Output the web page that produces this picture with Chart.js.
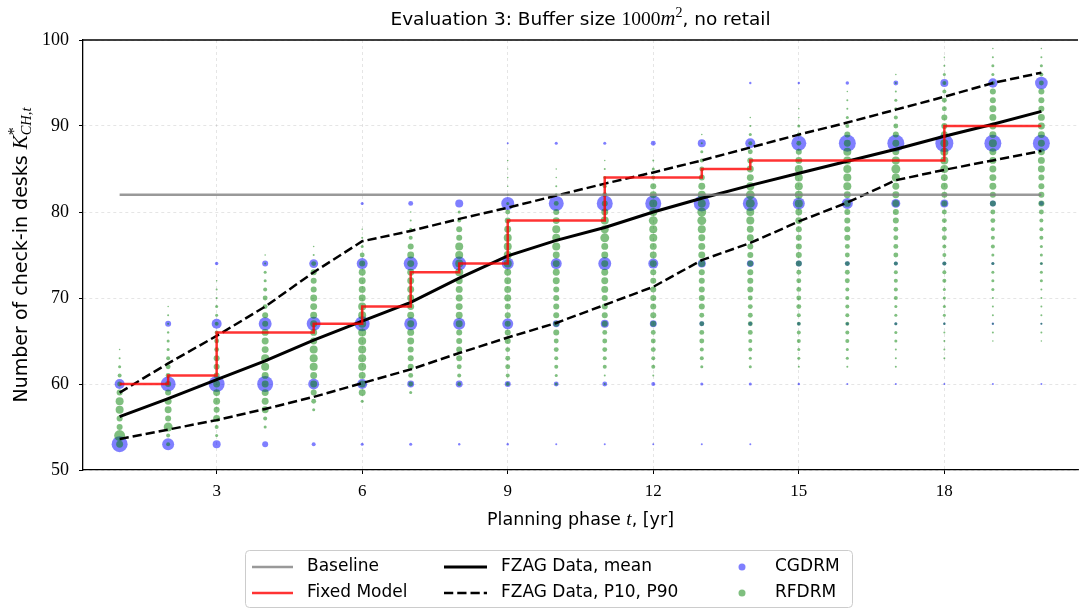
<!DOCTYPE html>
<html lang="en">
<head>
<meta charset="UTF-8">
<title>Evaluation 3: Buffer size 1000m2, no retail</title>
<script src="https://cdn.jsdelivr.net/npm/chart.js"></script>
<style>
    html, body { margin: 0; padding: 0; overflow: hidden; background: #fff; }
    canvas { display: block; }
</style>
</head>
<body>
<canvas id="chart" width="1087" height="610"></canvas>
<script>
// planning phases t = 1..20
const years = [1, 2, 3, 4, 5, 6, 7, 8, 9, 10, 11, 12, 13, 14, 15, 16, 17, 18, 19, 20];
const xTicks = [3, 6, 9, 12, 15, 18];
const yTicks = [50, 60, 70, 80, 90, 100];

const baselineValue = 82;
const fixedModel = [60, 61, 66, 66, 67, 69, 73, 74, 79, 79, 84, 84, 85, 86, 86, 86, 86, 90, 90, 90];
const fzagMean = [56.2, 58.3, 60.5, 62.7, 65.1, 67.3, 69.5, 72.3, 74.9, 76.7, 78.2, 80.0, 81.6, 83.1, 84.5, 85.9, 87.3, 88.8, 90.2, 91.7];
const fzagP10 = [53.6, 54.7, 55.8, 57.1, 58.5, 60.1, 61.7, 63.6, 65.4, 67.1, 69.2, 71.3, 74.4, 76.4, 78.9, 81.1, 83.7, 84.9, 86.0, 87.1];
const fzagP90 = [59.0, 62.4, 65.6, 69.0, 73.0, 76.6, 77.8, 79.2, 80.5, 81.9, 83.3, 84.6, 86.0, 87.5, 89.0, 90.4, 91.9, 93.4, 95.0, 96.2];

// CGDRM: desk levels and relative frequency (marker area) per phase
const cgdrmLevels = [53, 60, 67, 74, 81, 88, 95];
const cgdrmWeight = [
    [64, 25, 0, 0, 0, 0, 0],
    [36, 56, 9, 0, 0, 0, 0],
    [16, 64, 25, 3, 0, 0, 0],
    [9, 64, 42, 9, 0, 0, 0],
    [4, 30, 49, 20, 0, 0, 0],
    [2.3, 25, 56, 30, 2.3, 0, 0],
    [2.3, 12, 42, 49, 6, 0, 0],
    [1.4, 12, 36, 49, 16, 0, 0],
    [1.4, 9, 30, 36, 42, 1, 0],
    [1, 6, 12, 30, 56, 2.3, 0],
    [1, 6, 16, 42, 64, 2.3, 0],
    [1, 4, 12, 25, 64, 6, 0],
    [1, 2.3, 6, 16, 64, 16, 0],
    [1, 2.3, 4, 12, 56, 25, 1.4],
    [0, 1.4, 3, 9, 36, 56, 1.4],
    [0, 1, 2.3, 6, 30, 72, 3],
    [0, 1, 2.3, 4, 20, 72, 6],
    [0, 1, 1.4, 4, 16, 81, 16],
    [0, 1, 1.4, 2.3, 9, 72, 22],
    [0, 1, 1, 1.4, 6, 72, 40]
];

// RFDRM: lowest desk count per phase, then relative frequency for each desk count upwards
const rfdrmStart = [53, 53, 54, 55, 57, 58, 59, 60, 60, 60, 60, 61, 62, 62, 62, 62, 62, 63, 65, 65];
const rfdrmWeight = [
    [12, 30, 9, 9, 16, 16, 9, 6, 4, 2.3, 1, 0.6],
    [4, 4, 20, 9, 12, 12, 9, 9, 6, 6, 4, 2.3, 2.3, 1.4, 1, 1, 0.6],
    [2.3, 4, 12, 9, 12, 12, 12, 9, 9, 9, 6, 6, 4, 4, 2.3, 2.3, 1, 1, 0.6],
    [2.3, 4, 12, 12, 12, 12, 12, 16, 16, 12, 12, 12, 9, 9, 6, 6, 4, 2.3, 2.3, 1, 0.6],
    [2.3, 6, 9, 12, 12, 16, 16, 16, 12, 12, 12, 12, 12, 12, 9, 9, 9, 6, 1, 0.6],
    [2.3, 12, 12, 12, 16, 16, 16, 16, 16, 16, 16, 16, 12, 12, 12, 12, 9, 6, 2.3, 1, 0.6],
    [2.3, 6, 6, 9, 9, 9, 12, 12, 12, 12, 12, 12, 12, 12, 12, 12, 12, 9, 4, 2.3, 1, 0.6],
    [4, 4, 6, 9, 9, 9, 9, 12, 12, 12, 12, 12, 12, 16, 16, 16, 16, 9, 9, 4, 2.3],
    [4, 4, 6, 6, 6, 9, 9, 9, 9, 9, 12, 12, 12, 12, 16, 16, 16, 16, 12, 9, 6, 2.3, 1, 0.6, 0.6, 0.4, 0.6],
    [2.3, 2.3, 4, 4, 6, 6, 9, 9, 9, 9, 9, 9, 12, 12, 12, 12, 16, 16, 16, 12, 9, 6, 2.3, 1, 0.6, 0.6],
    [1, 1, 4, 4, 6, 6, 6, 9, 9, 9, 9, 12, 12, 12, 12, 12, 12, 20, 16, 16, 12, 9, 6, 4, 2.3, 1, 0.6],
    [1, 4, 4, 6, 6, 6, 9, 9, 9, 9, 9, 9, 9, 12, 12, 12, 16, 16, 20, 16, 16, 12, 9, 4, 2.3, 1],
    [2.3, 4, 4, 6, 6, 6, 6, 9, 9, 9, 9, 9, 12, 12, 12, 12, 16, 20, 20, 16, 16, 12, 9, 6, 4, 2.3, 1, 0.6],
    [2.3, 2.3, 4, 4, 6, 6, 6, 6, 6, 9, 9, 9, 9, 9, 9, 12, 12, 16, 16, 20, 20, 16, 12, 12, 9, 6, 4, 2.3, 1, 0.6],
    [1, 2.3, 2.3, 4, 4, 4, 4, 6, 6, 6, 6, 6, 9, 9, 9, 9, 9, 12, 12, 16, 16, 16, 16, 16, 12, 9, 6, 4, 2.3, 0.6, 0.6],
    [1, 2.3, 2.3, 4, 4, 4, 4, 4, 4, 4, 6, 6, 6, 6, 6, 9, 9, 9, 9, 12, 12, 16, 16, 16, 16, 16, 12, 9, 4, 2.3, 1, 1, 0.6],
    [1, 1, 1, 2.3, 2.3, 2.3, 2.3, 2.3, 4, 4, 4, 4, 4, 6, 6, 6, 6, 9, 9, 12, 12, 12, 16, 20, 16, 12, 12, 9, 6, 4, 2.3, 2.3, 1, 1, 0.6],
    [1, 1, 1, 1, 1.4, 2.3, 2.3, 2.3, 2.3, 4, 4, 4, 4, 4, 6, 6, 6, 6, 9, 9, 12, 12, 16, 16, 16, 16, 12, 9, 9, 6, 6, 4, 4, 2.3, 1, 0.6],
    [0.6, 1, 1, 1, 1, 1, 2.3, 2.3, 2.3, 2.3, 2.3, 4, 4, 4, 6, 6, 9, 9, 12, 12, 12, 12, 12, 16, 12, 12, 12, 12, 9, 9, 4, 2.3, 2.3, 1, 0.6],
    [0.6, 1, 1, 1, 1, 1, 1, 2.3, 2.3, 2.3, 2.3, 2.3, 4, 4, 4, 6, 9, 9, 9, 9, 12, 12, 12, 12, 12, 12, 12, 9, 9, 9, 6, 4, 2.3, 1, 0.6]
];

const SANS = '"DejaVu Sans", sans-serif';
const SERIF = '"Liberation Serif", serif';
const BLUE = 'rgba(0, 0, 255, 0.5)';
const GREEN = 'rgba(0, 128, 0, 0.5)';
const GREY = 'rgba(128, 128, 128, 0.8)';
const RED = 'rgba(255, 0, 0, 0.8)';

const toXY = vals => years.map((t, i) => ({ x: t, y: vals[i] }));

const cgdrmPoints = [];
years.forEach((t, i) => {
    cgdrmLevels.forEach((k, j) => {
        if (cgdrmWeight[i][j] > 0) cgdrmPoints.push({ x: t, y: k, w: cgdrmWeight[i][j] });
    });
});
const rfdrmPoints = [];
years.forEach((t, i) => {
    rfdrmWeight[i].forEach((w, j) => {
        if (w > 0) rfdrmPoints.push({ x: t, y: rfdrmStart[i] + j, w: w });
    });
});

// draw a line of mixed text runs (sans text + math italics, super/subscripts)
function drawRich(ctx, parts, x, y) {
    let total = 0;
    parts.forEach(p => {
        ctx.font = p.font;
        p.w = ctx.measureText(p.text).width;
        if (!p.stack) total += p.w;
    });
    let cx = x - total / 2;
    ctx.textAlign = 'left';
    ctx.textBaseline = 'alphabetic';
    parts.forEach(p => {
        ctx.font = p.font;
        ctx.fillText(p.text, cx, y + (p.dy || 0));
        if (!p.stack) cx += p.w;
    });
}

const label = `17px ${SANS}`;
const mathIt = `italic 19px ${SERIF}`;

const decorations = {
    id: 'decorations',
    afterDatasetsDraw(chart) {
        const ctx = chart.ctx, a = chart.chartArea;
        ctx.save();
        ctx.strokeStyle = '#000';
        ctx.lineWidth = 1.3;
        ctx.beginPath();
        ctx.moveTo(a.left, a.top);
        ctx.lineTo(a.right, a.top);
        ctx.stroke();
        ctx.restore();
    },
    afterDraw(chart) {
        const ctx = chart.ctx, a = chart.chartArea;
        const cx = (a.left + a.right) / 2;
        ctx.save();
        ctx.fillStyle = '#000';

        drawRich(ctx, [
            { text: 'Evaluation 3: Buffer size ', font: `18.5px ${SANS}` },
            { text: '1000', font: `19.5px ${SERIF}` },
            { text: 'm', font: `italic 20.5px ${SERIF}` },
            { text: '2', font: `14px ${SERIF}`, dy: -8 },
            { text: ', no retail', font: `18.5px ${SANS}` }
        ], cx, 25);

        drawRich(ctx, [
            { text: 'Planning phase ', font: `17.5px ${SANS}` },
            { text: 't', font: mathIt },
            { text: ', [yr]', font: `17.5px ${SANS}` }
        ], cx, 525);

        ctx.save();
        ctx.translate(27, (a.top + a.bottom) / 2);
        ctx.rotate(-Math.PI / 2);
        drawRich(ctx, [
            { text: 'Number of check-in desks ', font: `19px ${SANS}` },
            { text: 'K', font: `italic 21px ${SERIF}` },
            { text: '*', font: `16px ${SERIF}`, dy: -8, stack: true },
            { text: 'CH,t', font: `italic 14.5px ${SERIF}`, dy: 4 }
        ], 0, 0);
        ctx.restore();

        // legend
        const lx = 245.5, ly = 550.5, lw = 607, lh = 57;
        ctx.beginPath();
        ctx.roundRect(lx, ly, lw, lh, 4);
        ctx.fillStyle = 'rgba(255,255,255,0.8)';
        ctx.fill();
        ctx.strokeStyle = '#cccccc';
        ctx.lineWidth = 1;
        ctx.stroke();

        const rows = [567, 593];
        const lineItem = (x1, x2, y, color, width, dash) => {
            ctx.save();
            ctx.strokeStyle = color;
            ctx.lineWidth = width;
            ctx.setLineDash(dash || []);
            ctx.beginPath();
            ctx.moveTo(x1, y);
            ctx.lineTo(x2, y);
            ctx.stroke();
            ctx.restore();
        };
        const dotItem = (x, y, color) => {
            ctx.beginPath();
            ctx.arc(x, y, 3.5, 0, Math.PI * 2);
            ctx.fillStyle = color;
            ctx.fill();
        };
        lineItem(252, 293, rows[0], GREY, 2.5);
        lineItem(252, 293, rows[1], RED, 2.5);
        lineItem(444, 487, rows[0], '#000', 3);
        lineItem(444, 487, rows[1], '#000', 2.5, [9.25, 4]);
        dotItem(742, rows[0], BLUE);
        dotItem(742, rows[1], GREEN);

        ctx.fillStyle = '#000';
        ctx.font = label;
        ctx.textAlign = 'left';
        ctx.textBaseline = 'middle';
        ctx.fillText('Baseline', 307, rows[0]);
        ctx.fillText('Fixed Model', 307, rows[1]);
        ctx.fillText('FZAG Data, mean', 501, rows[0]);
        ctx.fillText('FZAG Data, P10, P90', 501, rows[1]);
        ctx.fillText('CGDRM', 775, rows[0]);
        ctx.fillText('RFDRM', 775, rows[1]);
        ctx.restore();
    }
};

const lineDefaults = { showLine: true, pointRadius: 0, pointHoverRadius: 0, fill: false, tension: 0 };

new Chart(document.getElementById('chart'), {
    type: 'scatter',
    data: {
        datasets: [
            { ...lineDefaults, label: 'Baseline', data: [{ x: 1, y: baselineValue }, { x: 20, y: baselineValue }],
              borderColor: GREY, borderWidth: 2.5, order: 1 },
            { ...lineDefaults, label: 'Fixed Model', data: toXY(fixedModel), stepped: 'before',
              borderColor: RED, borderWidth: 2.5, order: 1 },
            { ...lineDefaults, label: 'FZAG Data, mean', data: toXY(fzagMean),
              borderColor: '#000', borderWidth: 3, order: 1 },
            { ...lineDefaults, label: 'FZAG Data, P10', data: toXY(fzagP10),
              borderColor: '#000', borderWidth: 2.5, borderDash: [9.25, 4], order: 1 },
            { ...lineDefaults, label: 'FZAG Data, P90', data: toXY(fzagP90),
              borderColor: '#000', borderWidth: 2.5, borderDash: [9.25, 4], order: 1 },
            { label: 'RFDRM', data: rfdrmPoints, backgroundColor: GREEN, borderWidth: 0,
              pointRadius: c => Math.sqrt(c.raw.w), pointHoverRadius: c => Math.sqrt(c.raw.w), order: 2 },
            { label: 'CGDRM', data: cgdrmPoints, backgroundColor: BLUE, borderWidth: 0,
              pointRadius: c => Math.sqrt(c.raw.w), pointHoverRadius: c => Math.sqrt(c.raw.w), order: 3 }
        ]
    },
    options: {
        responsive: false,
        animation: false,
        devicePixelRatio: 1,
        events: [],
        layout: { padding: { left: 0, right: 0, top: 40, bottom: 0 } },
        plugins: { legend: { display: false }, tooltip: { enabled: false }, title: { display: false } },
        scales: {
            x: {
                type: 'linear',
                min: 0.245,
                max: 20.755,
                afterBuildTicks: s => { s.ticks = xTicks.map(v => ({ value: v })); },
                afterFit: s => { s.height = 140; },
                ticks: { font: { family: SERIF, size: 17 }, color: '#000', padding: 7, maxRotation: 0, autoSkip: false },
                grid: { color: 'rgba(0,0,0,0.13)', lineWidth: 0.8, tickColor: '#000', tickLength: 4, tickWidth: 1, tickBorderDash: [] },
                border: { color: '#000', width: 1.3, dash: [3, 3] }
            },
            y: {
                min: 50,
                max: 100,
                afterBuildTicks: s => { s.ticks = yTicks.map(v => ({ value: v })); },
                afterFit: s => { s.width = 83; },
                ticks: { font: { family: SERIF, size: 18 }, color: '#000', padding: 10 },
                grid: { color: 'rgba(0,0,0,0.13)', lineWidth: 0.8, tickColor: '#000', tickLength: 4, tickWidth: 1, tickBorderDash: [] },
                border: { color: '#000', width: 1.3, dash: [3, 3] }
            }
        }
    },
    plugins: [decorations]
});
</script>
</body>
</html>
